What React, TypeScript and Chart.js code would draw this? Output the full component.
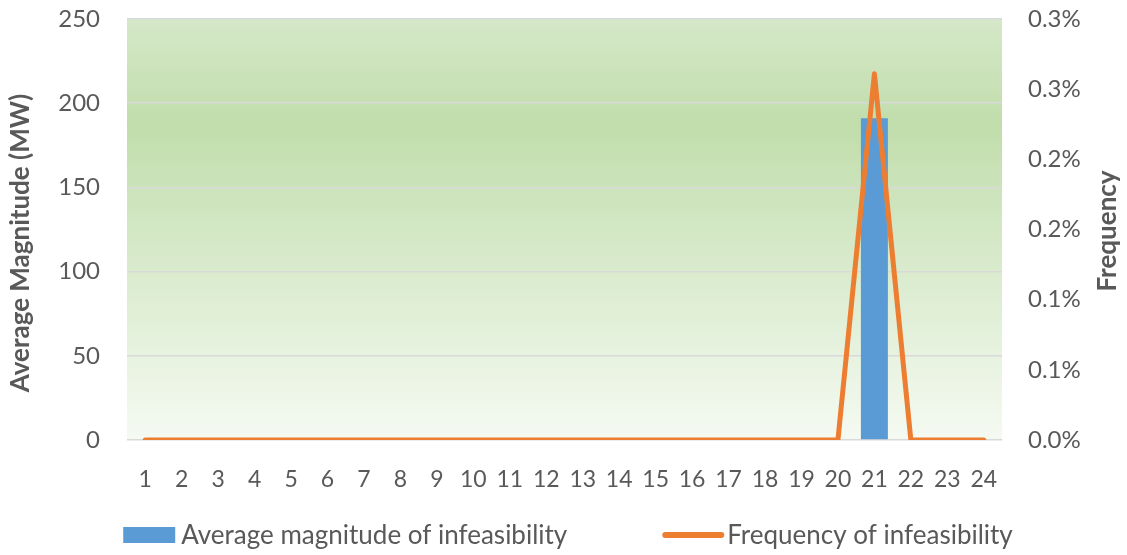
import React, { useEffect, useRef } from "react";
import { Chart, registerables } from "chart.js";

Chart.register(...registerables);

const categories = ["1","2","3","4","5","6","7","8","9","10","11","12","13","14","15","16","17","18","19","20","21","22","23","24"];
const magnitudeMW = [0,0,0,0,0,0,0,0,0,0,0,0,0,0,0,0,0,0,0,0,191,0,0,0];
const frequency = [0,0,0,0,0,0,0,0,0,0,0,0,0,0,0,0,0,0,0,0,0.00261,0,0,0];
const seriesNames = ["Average magnitude of infeasibility", "Frequency of infeasibility"];
const leftTitle = "Average Magnitude (MW)";
const rightTitle = "Frequency";

const BLUE = "#5B9BD5";
const ORANGE = "#ED7D31";
const TEXT = "#595959";
const FONT = "Lato, 'Open Sans', sans-serif";

const bgPlugin = {
  id: "bgGradient",
  beforeDraw(chart: any) {
    const { ctx, chartArea } = chart;
    if (!chartArea) return;
    const g = ctx.createLinearGradient(0, chartArea.top, 0, chartArea.bottom);
    g.addColorStop(0, "rgb(213,232,201)");
    g.addColorStop(0.25, "rgb(193,221,171)");
    g.addColorStop(0.55, "rgb(214,233,201)");
    g.addColorStop(1, "rgb(245,250,242)");
    ctx.save();
    ctx.fillStyle = g;
    ctx.fillRect(chartArea.left, chartArea.top, chartArea.right - chartArea.left, chartArea.bottom - chartArea.top);
    ctx.restore();
  },
};

const decorPlugin = {
  id: "decor",
  afterDraw(chart: any) {
    const { ctx } = chart;
    ctx.save();
    // axis titles
    ctx.fillStyle = TEXT;
    ctx.font = `bold 26px ${FONT}`;
    ctx.textAlign = "center";
    ctx.textBaseline = "middle";
    ctx.save();
    ctx.translate(21, 243);
    ctx.rotate(-Math.PI / 2);
    ctx.fillText(leftTitle, 0, 0);
    ctx.restore();
    ctx.save();
    ctx.translate(1108, 231);
    ctx.rotate(-Math.PI / 2);
    ctx.fillText(rightTitle, 0, 0);
    ctx.restore();

    // legend
    ctx.font = `26px ${FONT}`;
    ctx.textAlign = "left";
    const w1 = ctx.measureText(seriesNames[0]).width;
    const w2 = ctx.measureText(seriesNames[1]).width;
    const box1 = 52, gapText1 = 6, box2 = 62, gapText2 = 3, gap = 95;
    const total = box1 + gapText1 + w1 + gap + box2 + gapText2 + w2;
    const cy = 535;
    let x = 568 - total / 2;
    ctx.fillStyle = BLUE;
    ctx.fillRect(x, cy - 8, box1, 16);
    x += box1 + gapText1;
    ctx.fillStyle = TEXT;
    ctx.fillText(seriesNames[0], x, cy + 1);
    x += w1 + gap;
    ctx.strokeStyle = ORANGE;
    ctx.lineWidth = 6;
    ctx.lineCap = "round";
    ctx.beginPath();
    ctx.moveTo(x + 3, cy);
    ctx.lineTo(x + box2 - 3, cy);
    ctx.stroke();
    x += box2 + gapText2;
    ctx.fillStyle = TEXT;
    ctx.fillText(seriesNames[1], x, cy + 1);
    ctx.restore();
  },
};

export default function App() {
  const ref = useRef<HTMLCanvasElement | null>(null);
  useEffect(() => {
    if (!ref.current) return;
    const chart = new Chart(ref.current, {
      data: {
        labels: categories,
        datasets: [
          {
            type: "bar",
            label: seriesNames[0],
            data: magnitudeMW,
            backgroundColor: BLUE,
            borderWidth: 0,
            yAxisID: "y",
            categoryPercentage: 1,
            barPercentage: 0.74,
            order: 2,
          },
          {
            type: "line",
            label: seriesNames[1],
            data: frequency,
            borderColor: ORANGE,
            backgroundColor: ORANGE,
            borderWidth: 5,
            pointRadius: 0,
            tension: 0,
            borderJoinStyle: "round",
            borderCapStyle: "round",
            yAxisID: "y1",
            order: 1,
          },
        ],
      } as any,
      options: {
        animation: false,
        responsive: true,
        maintainAspectRatio: false,
        layout: { padding: { top: 19, left: 0, right: 0, bottom: 0 } },
        plugins: { legend: { display: false }, tooltip: { enabled: false } },
        scales: {
          x: {
            offset: true,
            grid: { display: false, drawTicks: false },
            border: { display: false },
            ticks: { color: TEXT, font: { family: FONT, size: 23 }, padding: 26, maxRotation: 0, autoSkip: false },
            afterFit: (s: any) => { s.height = 115; s.paddingLeft = 0; s.paddingRight = 0; },
          },
          y: {
            position: "left",
            min: 0,
            max: 250,
            ticks: { stepSize: 50, color: TEXT, font: { family: FONT, size: 24 }, padding: 27 },
            grid: { color: "#d9d9d9", lineWidth: 1.5, drawTicks: false },
            border: { display: false },
            afterFit: (s: any) => { s.width = 127; s.paddingTop = 0; s.paddingBottom = 0; },
          },
          y1: {
            position: "right",
            min: 0,
            max: 0.003,
            ticks: {
              stepSize: 0.0005,
              color: TEXT,
              font: { family: FONT, size: 24 },
              padding: 26,
              callback: (v: any) => {
                const tenths = Math.round(Math.round(Number(v) * 1e5) / 100);
                return (tenths / 10).toFixed(1) + "%";
              },
            },
            grid: { display: false, drawTicks: false },
            border: { display: false },
            afterFit: (s: any) => { s.width = 125; s.paddingTop = 0; s.paddingBottom = 0; },
          },
        },
      } as any,
      plugins: [bgPlugin, decorPlugin],
    });
    return () => chart.destroy();
  }, []);
  return (
    <div style={{ position: "fixed", left: 0, top: 0, width: 1127, height: 555, background: "#fff" }}>
      <canvas ref={ref} />
    </div>
  );
}
